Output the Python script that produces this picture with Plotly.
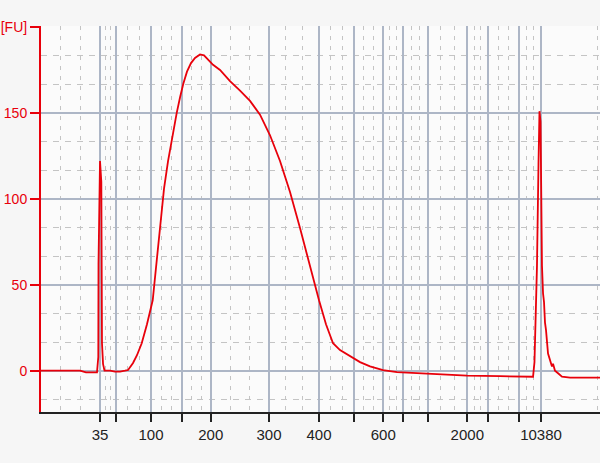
import plotly.graph_objects as go

# Ladder (bp) and their migration times (s)
ladder_bp = [35, 50, 100, 150, 200, 300, 400, 500, 600, 700, 1000, 2000, 3000, 7000, 10380]
ladder_time = [43.00, 45.43, 50.75, 55.42, 59.83, 68.69, 76.29, 81.65, 86.06, 89.10,
               92.81, 98.83, 101.92, 106.73, 110.03]
labeled_bp = [35, 100, 200, 300, 400, 600, 2000, 10380]

# Electropherogram trace: time (s) vs fluorescence (FU)
time_s = [34.03, 39.96, 40.87, 42.54, 42.74, 42.77, 43.00, 43.20, 43.30, 43.46, 43.68,
          44.52, 45.28, 46.04, 46.80, 47.26, 48.02, 48.62, 49.34, 50.14, 51.01, 51.51,
          52.12, 52.73, 53.34, 54.10, 54.66, 55.16, 55.66, 56.22, 56.83, 57.44, 58.20,
          58.81, 59.42, 60.18, 61.24, 62.76, 64.28, 65.80, 67.32, 68.84, 70.36, 71.88,
          73.40, 74.92, 76.29, 77.35, 78.42, 79.48, 81.00, 82.52, 84.04, 86.02, 88.14,
          91.64, 96.20, 98.78, 103.80, 108.82, 109.04, 109.12, 109.27, 109.42, 109.65,
          109.80, 109.96, 110.03, 110.18, 110.34, 110.49, 110.64, 110.79, 111.10, 111.40,
          111.70, 111.86, 112.16, 112.62, 113.22, 114.44, 119.00]
fu = [0, 0, -1, -1, 8, 62, 122, 110, 16, 4, 0,
      0, -0.5, -0.5, 0, 0.4, 4.5, 9, 16, 27, 41, 60,
      84, 106, 122, 139, 150, 159, 167, 174, 179, 182, 184,
      183.5, 181, 178, 175, 168.5, 163, 157, 149, 137, 122, 104,
      83, 60, 41, 27, 16, 12, 8.5, 5, 2.5, 0.4, -0.8,
      -1.5, -2.2, -2.9, -3.2, -3.5, 5, 14, 40, 61, 120,
      151, 145, 119, 61, 45, 40, 28, 23.7, 10, 6,
      2.5, 4, 0, -1.5, -3.5, -4, -4]

x_start, x_end, grid_end = 34.03, 119.0, 136.0
y_ticks = [0, 50, 100, 150, 200]
y_text = ["0", "50", "100", "150", "[FU]"]

# dashed grid at thirds between solid grid lines
bounds = [x_start] + ladder_time + [grid_end]
x_minor = []
for a, b in zip(bounds[:-1], bounds[1:]):
    x_minor += [a + (b - a) / 3, a + 2 * (b - a) / 3]
y_minor = [k * 50 / 3 for k in range(-1, 13) if k % 3 != 0]

fig = go.Figure()
fig.add_trace(go.Scatter(x=time_s, y=fu, mode="lines",
                         line=dict(color="#e8000b", width=1.8), hoverinfo="skip"))

grid_solid = "#adb6c6"
grid_dash = "#c4c4c4"
fig.update_layout(
    width=600, height=463,
    margin=dict(l=41, r=0, t=26, b=51),
    paper_bgcolor="#f6f6f6", plot_bgcolor="#fbfbfb",
    showlegend=False,
    font=dict(family="Liberation Sans, Arial, sans-serif", size=15),
    xaxis=dict(
        range=[x_start, x_end], automargin=False,
        tickmode="array", tickvals=ladder_time,
        ticktext=[str(b) if b in labeled_bp else "" for b in ladder_bp],
        ticks="outside", ticklen=8, tickwidth=2, tickcolor="#222222",
        tickfont=dict(color="#222222", size=15),
        showline=True, linecolor="#222222", linewidth=1.5,
        showgrid=True, gridcolor=grid_solid, gridwidth=1.6,
        zeroline=False,
        minor=dict(tickmode="array", tickvals=x_minor, showgrid=True,
                   gridcolor=grid_dash, gridwidth=1, griddash="4px,6px", ticks=""),
    ),
    yaxis=dict(
        range=[-24.03, 200.58], automargin=False,
        tickmode="array", tickvals=y_ticks, ticktext=y_text,
        ticks="outside", ticklen=9, tickwidth=2, tickcolor="#e8000b",
        tickfont=dict(color="#e8000b", size=14),
        showline=True, linecolor="#e8000b", linewidth=2,
        showgrid=True, gridcolor=grid_solid, gridwidth=1.6,
        zeroline=False,
        minor=dict(tickmode="array", tickvals=y_minor, showgrid=True,
                   gridcolor=grid_dash, gridwidth=1, griddash="6px,6px", ticks=""),
    ),
)

# remove the browser's default 8px body margin so the figure sits at the page corner
fig.write_html("out.html", config={"displayModeBar": False},
               post_script="document.body.style.margin='0px';")
